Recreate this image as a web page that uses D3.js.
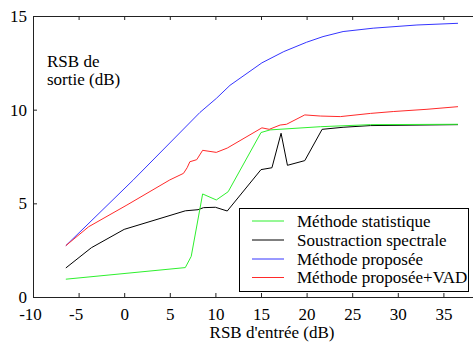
<!DOCTYPE html>
<html>
<head>
<meta charset="utf-8">
<script src="https://cdn.jsdelivr.net/npm/d3@7"></script>
<style>
  body { margin: 0; background: #fff; }
  svg { display: block; font-family: "Liberation Serif", "Times New Roman", serif; }
</style>
</head>
<body>
<div id="chart"></div>
<script>
// series values (x = RSB d'entrée, y = RSB de sortie)
const statX = [-6.4, 6.7, 7.35, 8.6, 10.1, 11.4, 15.0, 16, 21.5, 27, 36.6];
const statY = [0.95, 1.57, 2.17, 5.5, 5.18, 5.62, 8.78, 8.92, 9.09, 9.2, 9.22];

const soustX = [-6.4, -3.6, 0, 6.7, 8.1, 8.7, 10.0, 11.3, 15.0, 16.2, 17.2, 17.9, 19.8, 21.7, 24, 27, 36.6];
const soustY = [1.55, 2.63, 3.61, 4.6, 4.66, 4.77, 4.79, 4.59, 6.8, 6.9, 8.74, 7.03, 7.28, 8.95, 9.06, 9.15, 9.2];

const propX = [-6.4, 1.0, 8.3, 10.1, 11.6, 15.1, 17.5, 20.0, 21.8, 24.0, 27.3, 32.1, 36.6];
const propY = [2.74, 6.25, 9.85, 10.6, 11.3, 12.5, 13.1, 13.6, 13.9, 14.17, 14.35, 14.52, 14.61];

const vadX = [-6.4, -3.9, 0.3, 5.0, 6.5, 6.9, 7.2, 7.95, 8.6, 10.1, 11.3, 15.1, 15.9, 17.1, 17.8, 19.8, 21.5, 23.7, 27, 29.5, 33.2, 36.6];
const vadY = [2.74, 3.75, 4.91, 6.25, 6.6, 6.9, 7.22, 7.33, 7.83, 7.72, 7.95, 9.03, 8.95, 9.18, 9.22, 9.72, 9.66, 9.63, 9.8, 9.9, 10.02, 10.16];

const seriesNames = ['Méthode statistique', 'Soustraction spectrale', 'Méthode proposée', 'Méthode proposée+VAD'];
const seriesColors = ['#2ef02e', '#000000', '#3535ff', '#ff2a2a'];

const xTicks = [-10, -5, 0, 5, 10, 15, 20, 25, 30, 35];
const yTicks = [0, 5, 10, 15];

// dimensions
const W = 473, H = 344;
const margin = {top: 16, left: 33};
const plotW = 456, plotH = 281;   // x domain runs off the right edge, like the original crop

const serif = '"Liberation Serif", "Times New Roman", serif';

const svg = d3.select('#chart')
  .append('svg')
  .attr('width', W)
  .attr('height', H)
  .attr('font-family', serif);

const x = d3.scaleLinear().domain([-10, 40]).range([margin.left, margin.left + plotW]);
const y = d3.scaleLinear().domain([0, 15]).range([margin.top + plotH, margin.top]);

// axes, ticks pointing inward
const axBottom = svg.append('g')
  .attr('transform', 'translate(0,' + y(0) + ')')
  .call(d3.axisBottom(x).tickValues(xTicks).tickSize(-4).tickSizeOuter(0).tickPadding(11)
    .tickFormat(d => String(d)));

const axTop = svg.append('g')
  .attr('transform', 'translate(0,' + y(15) + ')')
  .call(d3.axisTop(x).tickValues(xTicks).tickSize(-4).tickSizeOuter(0).tickFormat(''));

const axLeft = svg.append('g')
  .attr('transform', 'translate(' + x(-10) + ',0)')
  .call(d3.axisLeft(y).tickValues(yTicks).tickSize(-4).tickSizeOuter(0).tickPadding(6)
    .tickFormat(d => String(d)));

[axBottom, axTop, axLeft].forEach(g => {
  g.attr('font-family', serif).attr('font-size', 17);
  g.selectAll('path, line').attr('stroke', '#222').attr('stroke-width', 1);
  g.selectAll('text').attr('fill', '#000');
});
// negative labels sit a little left, as in the original
axBottom.selectAll('text').attr('dx', d => d < 0 ? -3 : 0);

// lines (statistique drawn over soustraction where they meet)
const data = [
  soustX.map((v, i) => [v, soustY[i]]),
  statX.map((v, i) => [v, statY[i]]),
  propX.map((v, i) => [v, propY[i]]),
  vadX.map((v, i) => [v, vadY[i]])
];
const drawColors = [seriesColors[1], seriesColors[0], seriesColors[2], seriesColors[3]];

const line = d3.line().x(d => x(d[0])).y(d => y(d[1]));

svg.selectAll('path.series')
  .data(data)
  .enter()
  .append('path')
  .attr('class', 'series')
  .attr('d', line)
  .attr('fill', 'none')
  .attr('stroke', (d, i) => drawColors[i])
  .attr('stroke-width', 1);

// axis titles
svg.append('text')
  .attr('x', 47).attr('y', 67)
  .attr('font-size', 17)
  .text('RSB de');
svg.append('text')
  .attr('x', 47).attr('y', 85)
  .attr('font-size', 17)
  .text('sortie (dB)');

svg.append('text')
  .attr('x', 272).attr('y', 338)
  .attr('text-anchor', 'middle')
  .attr('font-size', 17)
  .text("RSB d'entrée (dB)");

// legend
const legend = svg.append('g');
legend.append('rect')
  .attr('x', 239.5).attr('y', 208.5)
  .attr('width', 229).attr('height', 83)
  .attr('fill', '#fff')
  .attr('stroke', '#000')
  .attr('stroke-width', 1);

const rowY = [221, 240, 259, 277.5];
seriesNames.forEach((name, i) => {
  legend.append('line')
    .attr('x1', 252).attr('x2', 284)
    .attr('y1', rowY[i]).attr('y2', rowY[i])
    .attr('stroke', seriesColors[i])
    .attr('stroke-width', 1);
  legend.append('text')
    .attr('x', 297).attr('y', rowY[i] + 5.7)
    .attr('font-size', 17)
    .text(name);
});
</script>
</body>
</html>
